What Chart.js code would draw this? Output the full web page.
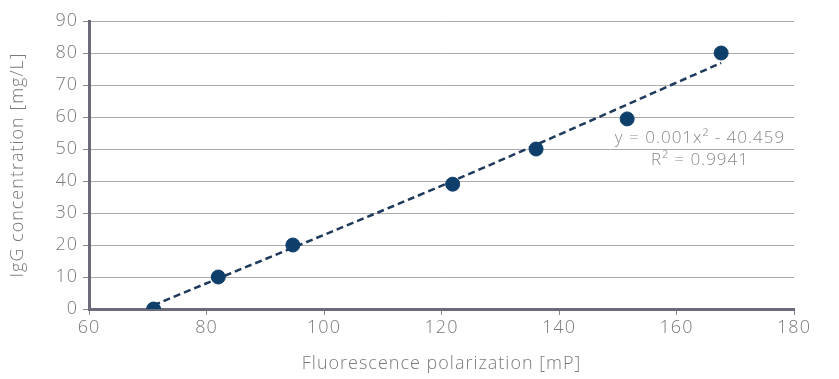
<!DOCTYPE html>
<html>
<head>
<meta charset="utf-8">
<script src="https://cdn.jsdelivr.net/npm/chart.js@4/dist/chart.umd.min.js"></script>
<style>
  html, body { margin: 0; padding: 0; background: #fff; }
  #wrap { width: 839px; height: 379px; }
</style>
</head>
<body>
<div id="wrap"><canvas id="chart"></canvas></div>
<script>
// measured points
const polarization = [71.0, 82.0, 94.7, 121.9, 136.1, 151.6, 167.6];
const concentration = [0, 10, 20, 39, 50, 59.4, 80];

// dashed trendline
const trendX = [71.0, 121.9, 167.6];
const trendY = [1.2, 40.0, 76.9];

const equationLines = ["y = 0.001x\u00B2 - 40.459", "R\u00B2 = 0.9941"];

const FONT = "'Open Sans', 'Lato', sans-serif";
const TEXT_GREY = "#7a7a7a";
const AXIS_GREY = "#6b6a78";

// the original font is a wide geometric face, so spread the letters a bit
const wideText = {
  id: "wideText",
  beforeInit(chart) { chart.ctx.letterSpacing = "1px"; },
  beforeDraw(chart) { chart.ctx.letterSpacing = "1px"; }
};

const equationLabel = {
  id: "equationLabel",
  afterDatasetsDraw(chart) {
    const { ctx, scales } = chart;
    const cx = scales.x.getPixelForValue(164);
    const cy = scales.y.getPixelForValue(53.3);
    ctx.save();
    ctx.fillStyle = "#8a8a8a";
    ctx.font = "300 17px " + FONT;
    ctx.textAlign = "center";
    ctx.textBaseline = "middle";
    equationLines.forEach((line, i) => ctx.fillText(line, cx, cy + i * 22));
    ctx.restore();
  }
};

new Chart(document.getElementById("chart").getContext("2d"), {
  type: "scatter",
  data: {
    datasets: [
      {
        label: "Trend",
        type: "line",
        data: trendX.map((x, i) => ({ x: x, y: trendY[i] })),
        borderColor: "#1d3a5c",
        borderWidth: 2.5,
        borderDash: [7, 4],
        pointRadius: 0,
        fill: false,
        tension: 0.3,
        order: 2
      },
      {
        label: "IgG",
        data: polarization.map((x, i) => ({ x: x, y: concentration[i] })),
        backgroundColor: "#0e3f6b",
        borderColor: "#0e3f6b",
        pointRadius: 7,
        order: 1
      }
    ]
  },
  options: {
    responsive: true,
    maintainAspectRatio: false,
    animation: false,
    layout: { padding: { top: 21, right: 45, left: 3, bottom: 0 } },
    plugins: {
      legend: { display: false },
      tooltip: { enabled: false }
    },
    scales: {
      x: {
        type: "linear",
        min: 60,
        max: 180,
        ticks: {
          stepSize: 20,
          color: TEXT_GREY,
          padding: 2,
          font: { family: FONT, size: 18, weight: "300" }
        },
        grid: {
          drawOnChartArea: false,
          tickLength: 6,
          tickColor: "#8a8a8a"
        },
        border: { color: AXIS_GREY, width: 3 },
        title: {
          display: true,
          text: "Fluorescence polarization [mP]",
          color: TEXT_GREY,
          padding: { top: 8 },
          font: { family: FONT, size: 18, weight: "300" }
        },
        afterFit(scale) { scale.height = 70; }
      },
      y: {
        min: 0,
        max: 90,
        ticks: {
          stepSize: 10,
          color: TEXT_GREY,
          padding: 5,
          font: { family: FONT, size: 18, weight: "300" }
        },
        grid: {
          color: "#aaaaaa",
          lineWidth: 1,
          tickLength: 6,
          tickColor: "#8a8a8a"
        },
        border: { color: AXIS_GREY, width: 3 },
        title: {
          display: true,
          text: "IgG concentration [mg/L]",
          color: TEXT_GREY,
          padding: { bottom: 6 },
          font: { family: FONT, size: 18, weight: "300" }
        },
        afterFit(scale) { scale.width = 86; }
      }
    }
  },
  plugins: [wideText, equationLabel]
});
</script>
</body>
</html>
